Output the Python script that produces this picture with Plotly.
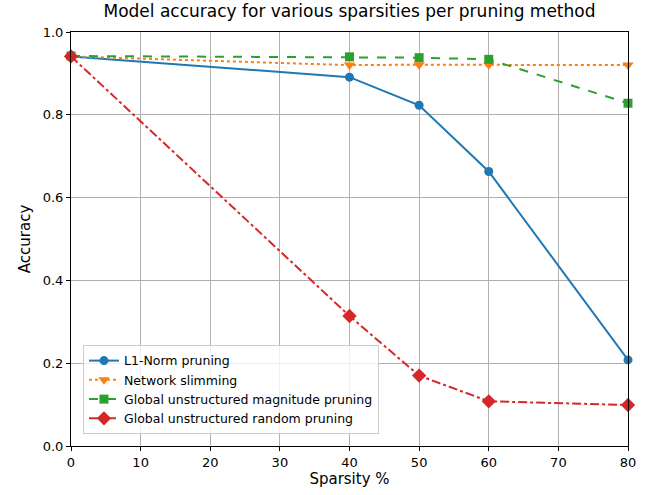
import plotly.graph_objects as go

sparsity = [0, 40, 50, 60, 80]
l1_norm = [0.941, 0.891, 0.823, 0.663, 0.208]
net_slim = [0.941, 0.920, 0.921, 0.921, 0.920]
glob_mag = [0.942, 0.940, 0.938, 0.934, 0.828]
glob_rand = [0.941, 0.314, 0.170, 0.108, 0.099]

series = [
    ("L1-Norm pruning", l1_norm, "#1f77b4", "solid", "circle", 9),
    ("Network slimming", net_slim, "#ff7f0e", "dot", "triangle-down", 10),
    ("Global unstructured magnitude pruning", glob_mag, "#2ca02c", "dash", "square", 9),
    ("Global unstructured random pruning", glob_rand, "#d62728", "dashdot", "diamond", 11),
]

fig = go.Figure()
for name, vals, col, dash, sym, ms in series:
    fig.add_trace(go.Scatter(
        x=sparsity, y=vals, name=name, mode="lines+markers",
        line=dict(color=col, width=2, dash=dash),
        marker=dict(color=col, symbol=sym, size=ms, line=dict(width=0)),
        cliponaxis=False,
    ))

axis_common = dict(
    showline=True, linecolor="black", linewidth=1, mirror=True,
    ticks="outside", ticklen=4, tickcolor="black",
    showgrid=True, gridcolor="#b0b0b0", gridwidth=1, zeroline=False,
    tickfont=dict(size=13, color="black"),
)

fig.update_layout(
    width=650, height=495,
    margin=dict(l=71, r=22, t=32, b=49),
    paper_bgcolor="white", plot_bgcolor="white",
    font=dict(family="DejaVu Sans", color="black"),
    title=dict(text="Model accuracy for various sparsities per pruning method",
               x=0.5, xref="paper", xanchor="center", y=1, yref="container",
               yanchor="top", pad=dict(t=5), font=dict(size=17)),
    xaxis=dict(range=[0, 80], tickvals=[0, 10, 20, 30, 40, 50, 60, 70, 80],
               title=dict(text="Sparsity %", font=dict(size=15), standoff=4), **axis_common),
    yaxis=dict(range=[0, 1], tickvals=[0, 0.2, 0.4, 0.6, 0.8, 1.0],
               ticktext=["0.0", "0.2", "0.4", "0.6", "0.8", "1.0"],
               title=dict(text="Accuracy", font=dict(size=15), standoff=8), **axis_common),
    legend=dict(x=0.0215, y=0.029, xanchor="left", yanchor="bottom",
                bgcolor="rgba(255,255,255,0.8)", bordercolor="#cccccc", borderwidth=1,
                font=dict(size=12.5), tracegroupgap=0, itemwidth=30),
    showlegend=True,
)

fig.write_html("out.html")
